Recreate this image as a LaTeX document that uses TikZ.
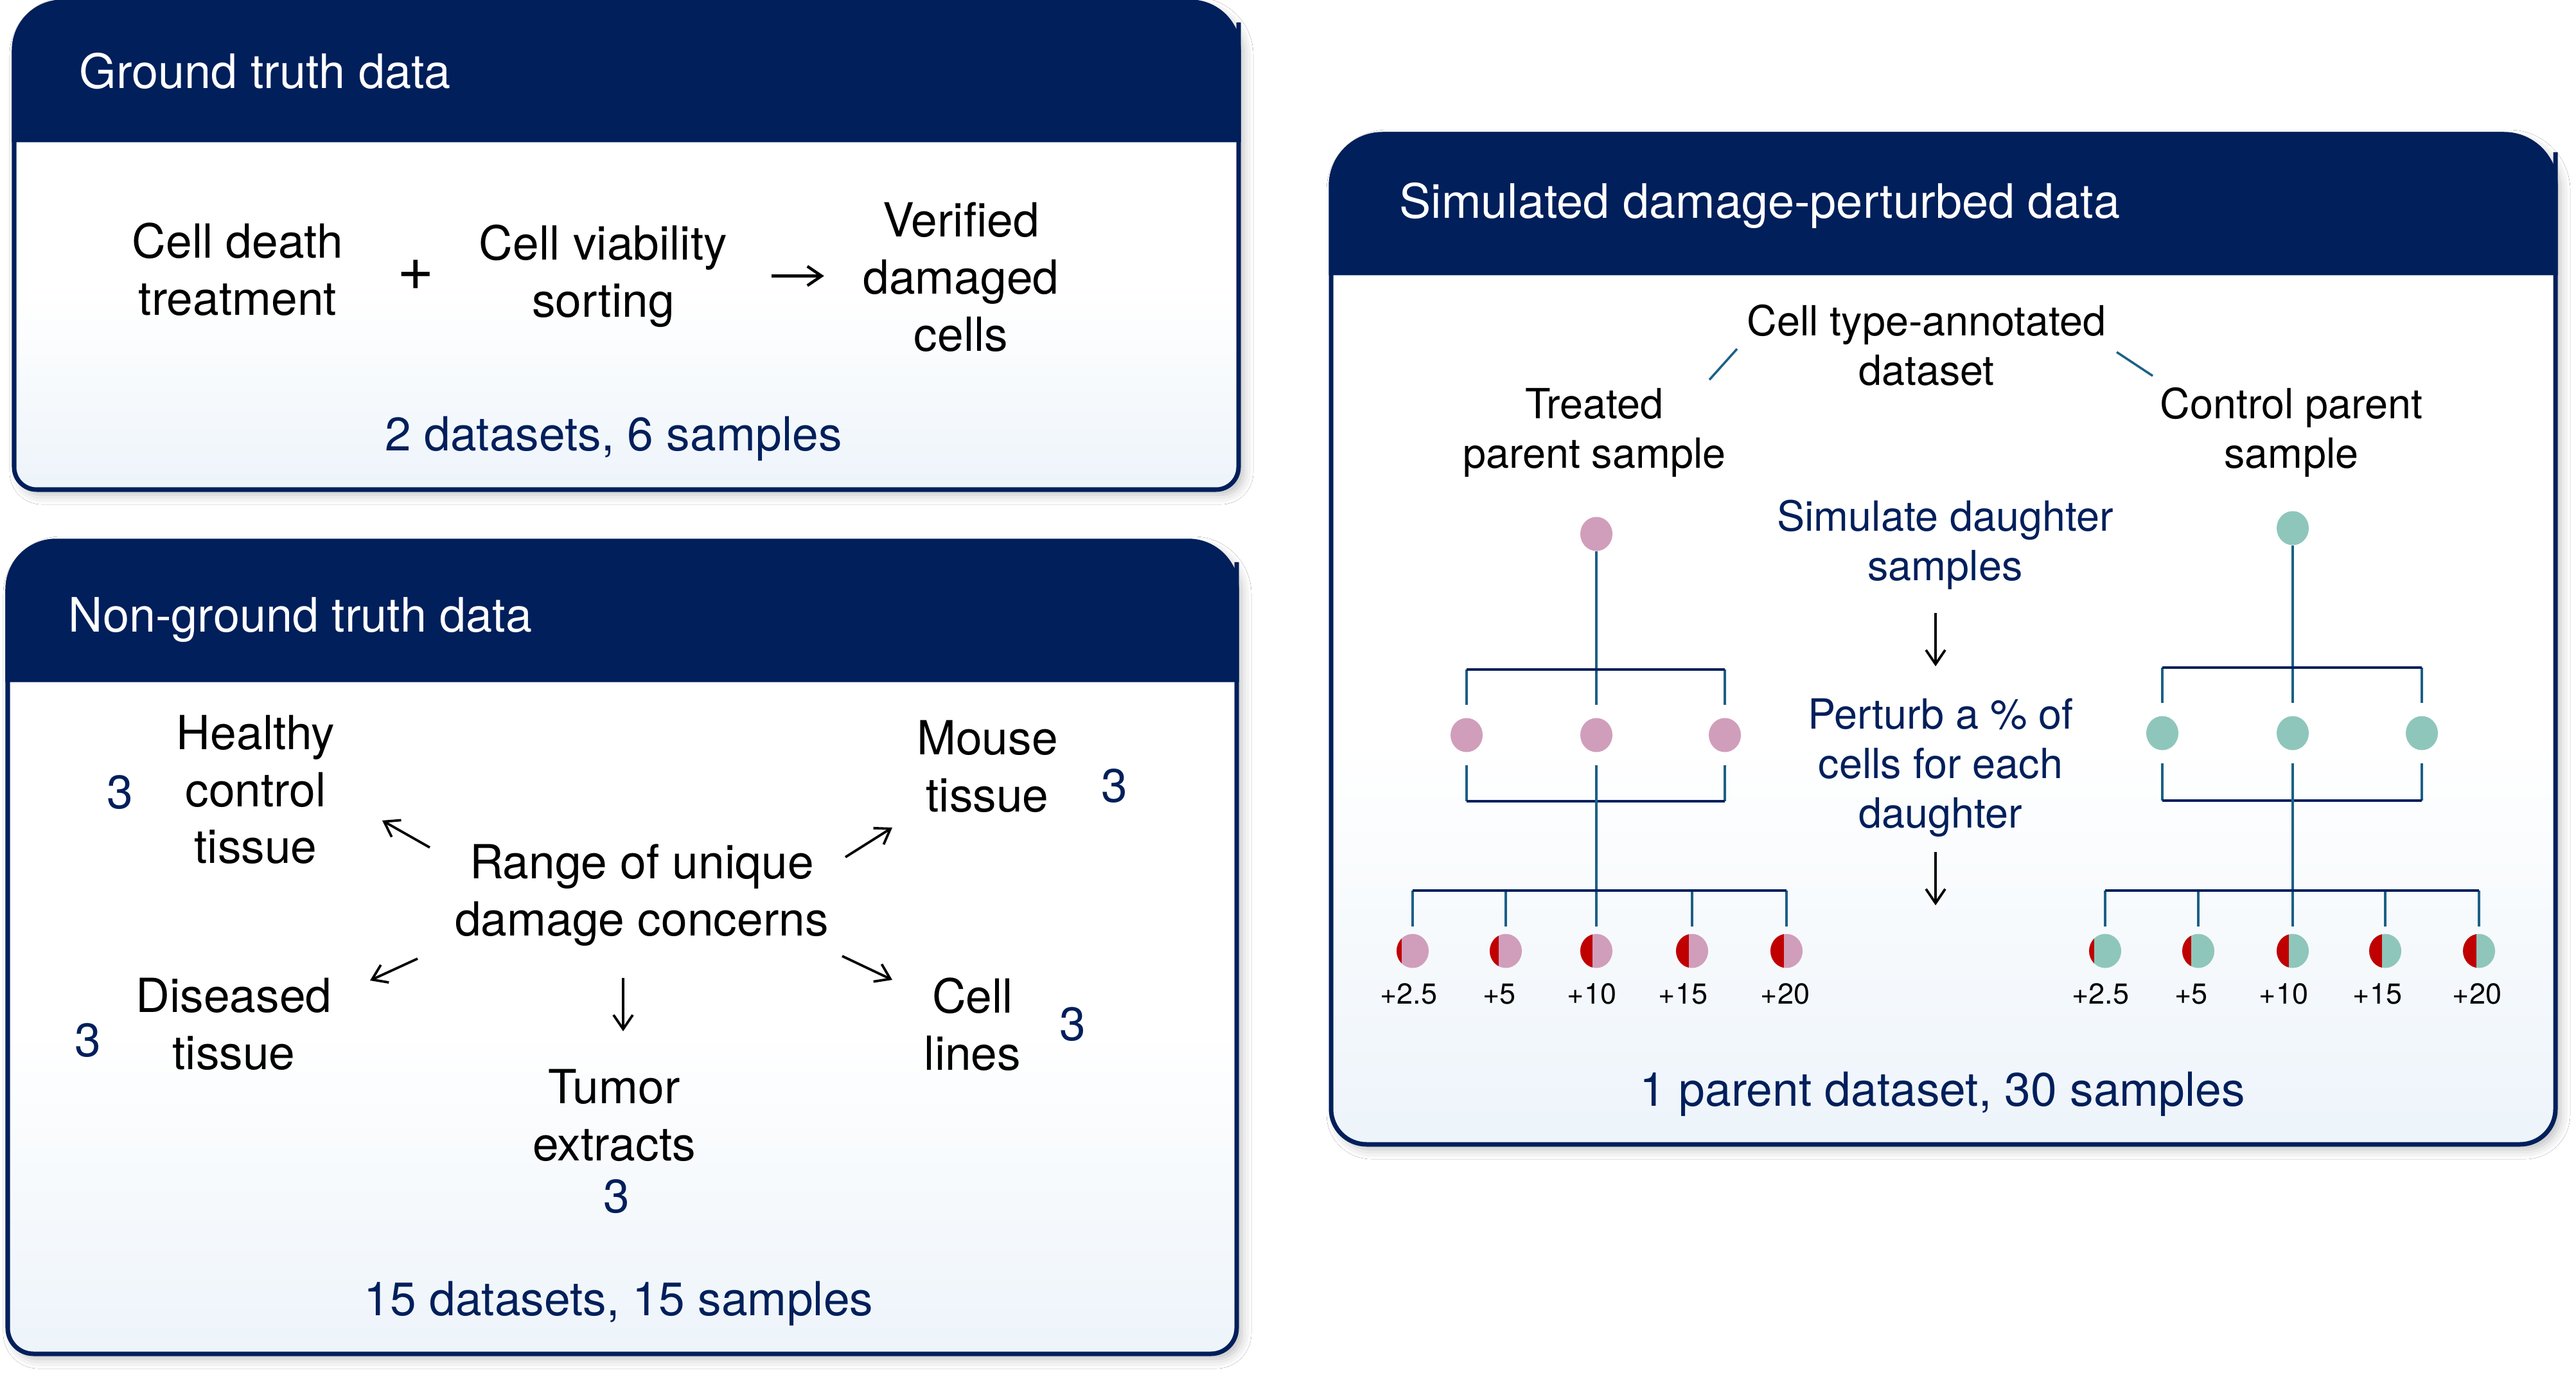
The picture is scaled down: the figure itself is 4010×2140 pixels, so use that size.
\documentclass[tikz,border=0pt]{standalone}
\usepackage{fontspec}
\setmainfont{TeX Gyre Heros}
\usetikzlibrary{arrows.meta,shapes.geometric,calc,shadows.blur}

\definecolor{navy}{HTML}{001F5B}
\definecolor{stemblue}{HTML}{1B6086}
\definecolor{pinkcell}{HTML}{D09EBB}
\definecolor{mintcell}{HTML}{8FC6BB}
\definecolor{dmgred}{HTML}{C00000}
\definecolor{panelblue}{HTML}{EDF4FA}

\pgfdeclareverticalshading{panelshade}{100bp}{color(0bp)=(panelblue); color(25bp)=(panelblue); color(45bp)=(white); color(100bp)=(white)}

\newcommand{\hdrfont}{\fontsize{21}{25}\selectfont}
\newcommand{\txtfont}{\fontsize{20.8}{25.3}\selectfont}
\newcommand{\simfont}{\fontsize{18.4}{21.9}\selectfont}
\newcommand{\pctfont}{\fontsize{12.8}{15}\selectfont}

\begin{document}
\begin{tikzpicture}[x=0.01cm, y=-0.01cm,
  panel/.style={draw=navy, line width=0.07cm, shade, shading=panelshade,
    blur shadow={shadow xshift=0.08cm, shadow yshift=-0.08cm, shadow blur radius=0.15cm, shadow opacity=25}},
  hdrbar/.style={fill=navy, draw=navy, line width=0.07cm},
  hdr/.style={text=white, font=\hdrfont, anchor=base west, inner sep=0},
  txt/.style={align=center, font=\txtfont, anchor=north, inner sep=0},
  stxt/.style={txt, font=\simfont},
  sym/.style={font=\fontsize{28}{30}\selectfont, inner sep=0},
  num/.style={text=navy, font=\txtfont, inner sep=0},
  pct/.style={font=\pctfont, inner sep=0},
  arr/.style={-{Straight Barb[length=0.22cm, width=0.3cm]}, line width=0.038cm},
  link/.style={draw=stemblue, line width=0.035cm},
  stem/.style={draw=stemblue, line width=0.045cm},
  bar/.style={draw=navy, line width=0.04cm},
  cellT/.style={ellipse, fill=pinkcell, minimum width=0.5cm, minimum height=0.53cm, inner sep=0},
  cellC/.style={ellipse, fill=mintcell, minimum width=0.5cm, minimum height=0.53cm, inner sep=0},
  dmg/.style={path picture={\fill[dmgred] (path picture bounding box.south west) rectangle
    ($(path picture bounding box.north west)!#1!(path picture bounding box.north east)$);}}]

  % Page and background
  \useasboundingbox (0,0) rectangle (4010,2140);
  \fill[white] (0,0) rectangle (4010,2140);

  % Ground truth panel
  \path[panel] (22,400) [rounded corners=0.75cm] -- (22,3) -- (1928,3) -- (1928,400)
    [rounded corners=0.35cm] -- (1928,762) -- (22,762) -- cycle;
  \path[hdrbar] (22,110) [rounded corners=0.75cm] -- (22,3) -- (1928,3) -- (1928,110)
    [sharp corners] -- (1928,218) -- (22,218) -- cycle;

  \node[hdr] (gtt) at (123,138) {Ground truth data};
  \node[txt] (cd) at (370,346) {Cell death\\treatment};
  \node[sym] (plus) at (647,428) {+};
  \node[txt] (cvs) at (939,349) {Cell viability\\sorting};
  \node[txt] (vdc) at (1496,314) {Verified\\damaged\\cells};
  \draw[arr, line width=0.045cm, shorten <=0.68cm, shorten >=0.6cm] (cvs.east) -- (cvs.east -| vdc.west);
  \node[txt, text=navy] (gtn) at (955,647) {2 datasets, 6 samples};

  % Non-ground truth panel
  \path[panel] (12,1300) [rounded corners=0.75cm] -- (12,842) -- (1925,842) -- (1925,1300)
    [rounded corners=0.4cm] -- (1925,2107) -- (12,2107) -- cycle;
  \path[hdrbar] (12,950) [rounded corners=0.75cm] -- (12,842) -- (1925,842) -- (1925,950)
    [sharp corners] -- (1925,1058) -- (12,1058) -- cycle;

  \node[hdr] (ngt) at (106,983) {Non-ground truth data};
  \node[txt] (hct) at (398,1112) {Healthy\\control\\tissue};
  \node[num] (nhct) at (187,1233) {3};
  \node[txt] (rng) at (999,1313) {Range of unique\\damage concerns};
  \node[txt] (mou) at (1537,1120) {Mouse\\tissue};
  \node[num] (nmou) at (1735,1223) {3};
  \node[txt] (dis) at (364,1521) {Diseased\\tissue};
  \node[num] (ndis) at (137,1619) {3};
  \node[txt] (cel) at (1514,1521) {Cell\\lines};
  \node[num] (ncel) at (1670,1594) {3};
  \node[txt] (tum) at (956,1663) {Tumor\\extracts};
  \node[num] (ntum) at (960,1862) {3};
  \node[txt, text=navy] (ngtn) at (963,1993) {15 datasets, 15 samples};

  % Arrows out of the range of concerns
  \coordinate (hcA) at (669,1319);  \coordinate (hcB) at (595,1277);
  \coordinate (moA) at (1316,1334); \coordinate (moB) at (1389,1288);
  \coordinate (diA) at (650,1492);  \coordinate (diB) at (576,1526);
  \coordinate (ceA) at (1311,1488); \coordinate (ceB) at (1389,1525);
  \coordinate (tuA) at (970,1522);  \coordinate (tuB) at (970,1605);
  \draw[arr] (hcA) -- (hcB);
  \draw[arr] (moA) -- (moB);
  \draw[arr] (diA) -- (diB);
  \draw[arr] (ceA) -- (ceB);
  \draw[arr] (tuA) -- (tuB);

  % Simulated panel
  \path[panel] (2072,900) [rounded corners=0.8cm] -- (2072,209) -- (3978,209) -- (3978,900)
    [rounded corners=0.55cm] -- (3978,1781) -- (2072,1781) -- cycle;
  \path[hdrbar] (2072,317) [rounded corners=0.8cm] -- (2072,209) -- (3978,209) -- (3978,317)
    [sharp corners] -- (3978,425) -- (2072,425) -- cycle;

  \node[hdr] (sdp) at (2178,340) {Simulated damage-perturbed data};
  \node[stxt] (cta) at (2999,473) {Cell type-annotated\\dataset};
  \node[stxt] (trt) at (2482,604) {Treated\\parent sample};
  \node[stxt] (ctl) at (3567,602) {Control parent\\sample};
  \coordinate (lkA) at (2704,543); \coordinate (lkB) at (2661,591);
  \coordinate (rkA) at (3295,548); \coordinate (rkB) at (3351,585);
  \draw[link] (lkA) -- (lkB);
  \draw[link] (rkA) -- (rkB);

  \node[stxt, text=navy] (sim) at (3028,777) {Simulate daughter\\samples};
  \node[stxt, text=navy] (per) at (3021,1086) {Perturb a \% of\\cells for each\\daughter};
  \coordinate (s1A) at (3013,954);  \coordinate (s1B) at (3013,1037);
  \coordinate (s2A) at (3013,1326); \coordinate (s2B) at (3013,1409);
  \draw[arr] (s1A) -- (s1B);
  \draw[arr] (s2A) -- (s2B);
  \node[txt, text=navy] (sdn) at (3024,1667) {1 parent dataset, 30 samples};

  % Treated tree
  \node[cellT] (t0) at (2485,831) {};
  \node[cellT] (t1) at (2283,1144) {};
  \node[cellT] (t2) at (2485,1144) {};
  \node[cellT] (t3) at (2685,1144) {};
  \node[cellT, dmg=0.15]  (tl1) at (2199,1480) {};
  \node[cellT, dmg=0.285] (tl2) at (2344,1480) {};
  \node[cellT, dmg=0.375] (tl3) at (2485,1480) {};
  \node[cellT, dmg=0.39]  (tl4) at (2634,1480) {};
  \node[cellT, dmg=0.425] (tl5) at (2781,1480) {};

  \coordinate (tu1) at (2283,1042); \coordinate (tu3) at (2685,1042);
  \coordinate (td1) at (2283,1247); \coordinate (td3) at (2685,1247);
  \coordinate (tb1) at (2199,1386); \coordinate (tb2) at (2344,1386);
  \coordinate (tb4) at (2634,1386); \coordinate (tb5) at (2781,1386);

  \draw[stem, shorten >=0.2cm] (t0) -- (t2);
  \draw[stem, shorten >=0.2cm] (tu1) -- (t1);
  \draw[stem, shorten >=0.2cm] (tu3) -- (t3);
  \draw[bar] (tu1) -- (tu3);
  \draw[stem, shorten >=0.2cm] (td1) -- (t1);
  \draw[stem, shorten >=0.2cm] (td3) -- (t3);
  \draw[bar] (td1) -- (td3);
  \draw[stem, shorten <=0.2cm, shorten >=0.11cm] (t2) -- (tl3);
  \draw[stem, shorten >=0.11cm] (tb1) -- (tl1);
  \draw[stem, shorten >=0.11cm] (tb2) -- (tl2);
  \draw[stem, shorten >=0.11cm] (tb4) -- (tl4);
  \draw[stem, shorten >=0.11cm] (tb5) -- (tl5);
  \draw[bar] (tb1) -- (tb5);

  \node[pct] (tp1) at (2193,1547) {+2.5};
  \node[pct] (tp2) at (2334,1547) {+5};
  \node[pct] (tp3) at (2478,1547) {+10};
  \node[pct] (tp4) at (2620,1547) {+15};
  \node[pct] (tp5) at (2779,1547) {+20};

  % Control tree
  \node[cellC] (c0) at (3569,822) {};
  \node[cellC] (c1) at (3366,1141) {};
  \node[cellC] (c2) at (3569,1141) {};
  \node[cellC] (c3) at (3770,1141) {};
  \node[cellC, dmg=0.15]  (cl1) at (3277,1480) {};
  \node[cellC, dmg=0.285] (cl2) at (3422,1480) {};
  \node[cellC, dmg=0.375] (cl3) at (3569,1480) {};
  \node[cellC, dmg=0.39]  (cl4) at (3713,1480) {};
  \node[cellC, dmg=0.425] (cl5) at (3859,1480) {};

  \coordinate (cu1) at (3366,1039); \coordinate (cu3) at (3770,1039);
  \coordinate (cd1) at (3366,1246); \coordinate (cd3) at (3770,1246);
  \coordinate (cb1) at (3277,1386); \coordinate (cb2) at (3422,1386);
  \coordinate (cb4) at (3713,1386); \coordinate (cb5) at (3859,1386);

  \draw[stem, shorten >=0.2cm] (c0) -- (c2);
  \draw[stem, shorten >=0.2cm] (cu1) -- (c1);
  \draw[stem, shorten >=0.2cm] (cu3) -- (c3);
  \draw[bar] (cu1) -- (cu3);
  \draw[stem, shorten >=0.2cm] (cd1) -- (c1);
  \draw[stem, shorten >=0.2cm] (cd3) -- (c3);
  \draw[bar] (cd1) -- (cd3);
  \draw[stem, shorten <=0.2cm, shorten >=0.11cm] (c2) -- (cl3);
  \draw[stem, shorten >=0.11cm] (cb1) -- (cl1);
  \draw[stem, shorten >=0.11cm] (cb2) -- (cl2);
  \draw[stem, shorten >=0.11cm] (cb4) -- (cl4);
  \draw[stem, shorten >=0.11cm] (cb5) -- (cl5);
  \draw[bar] (cb1) -- (cb5);

  \node[pct] (cp1) at (3270,1547) {+2.5};
  \node[pct] (cp2) at (3411,1547) {+5};
  \node[pct] (cp3) at (3555,1547) {+10};
  \node[pct] (cp4) at (3701,1547) {+15};
  \node[pct] (cp5) at (3856,1547) {+20};

\end{tikzpicture}
\end{document}
